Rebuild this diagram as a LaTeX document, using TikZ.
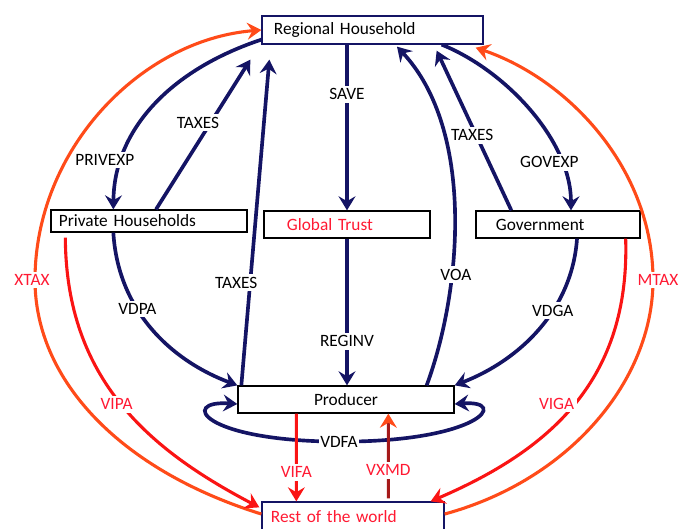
\documentclass[tikz,border=0pt]{standalone}
\usepackage{fontspec}
\setmainfont{Carlito}
\usetikzlibrary{arrows.meta, calc}
\definecolor{colorFlow}{RGB}{20,20,100}
\definecolor{colorTax}{RGB}{255,75,25}
\definecolor{colorImport}{RGB}{250,20,20}
\definecolor{colorExport}{RGB}{165,25,25}
\definecolor{colorText}{RGB}{255,25,50}

\begin{document}
\begin{tikzpicture}[x=0.025cm, y=-0.025cm, >={Stealth[length=10pt,width=12pt,inset=3.5pt]},
  font=\fontsize{12.3}{14}\selectfont,
  box/.style={draw, line width=0.9pt, align=left, inner ysep=0pt},
  flow/.style={->, colorFlow, line width=2.6pt},
  imp/.style={->, colorImport, line width=2.2pt},
  tax/.style={->, colorTax, line width=2.2pt},
  lbl/.style={fill=white, text=black, inner sep=2pt}]

\useasboundingbox (0,0) rectangle (681,528);

% accounts
\node[box, draw=colorFlow, minimum height=0.7cm, text width=4.925cm, inner xsep=0.3cm] (reg) at (372.5,30) {Regional Household};
\node[box, minimum height=0.55cm, text width=4.5cm, inner xsep=0.2cm] (priv) at (149,221) {Private Households};
\node[box, minimum height=0.675cm, text width=3cm, inner xsep=0.575cm, text=colorText] (trust) at (347,224.5) {Global Trust};
\node[box, minimum height=0.675cm, text width=3.1cm, inner xsep=0.5cm] (gov) at (558,224.5) {Government};
\node[box, minimum height=0.675cm, text width=5cm, inner xsep=0.2cm, align=center] (prod) at (346,399.5) {Producer};
\node[box, draw=colorFlow, minimum height=0.75cm, text width=4.1cm, inner xsep=0.225cm, text=colorText] (row) at (353,517) {Rest of the world};

% flows from the regional household
\draw[flow] ($(reg.south west)+(0,-5)$) .. controls (170,70) and (114,130) .. ($(priv.north west)+(63,0)$) node[lbl, pos=0.78, xshift=-0.42cm] {PRIVEXP};
\draw[flow] (trust.north |- reg.south) -- (trust.north) node[lbl, pos=0.3] {SAVE};
\draw[flow] ($(reg.south east)+(-42,0)$) .. controls (505,70) and (571,140) .. ($(gov.north)+(13,0)$) node[lbl, pos=0.77, xshift=-0.3cm] {GOVEXP};

% taxes and factor income
\draw[flow] ($(priv.north)+(7,0)$) -- ($(reg.south west)+(-11,15)$) node[lbl, pos=0.58, xshift=-0.32cm] {TAXES};
\draw[flow] ($(prod.north west)+(4,0)$) -- ($(reg.south west)+(8,15)$) node[lbl, pos=0.315, xshift=-0.35cm] {TAXES};
\draw[flow] ($(gov.north west)+(36,0)$) -- ($(reg.south east)+(-47,6)$) node[lbl, pos=0.47, xshift=-0.1cm] {TAXES};
\draw[flow] ($(prod.north east)+(-28,0)$) .. controls (462,290) and (475,130) .. ($(reg.south)+(24.5,2)$) node[lbl, pos=0.33, xshift=0.1cm] {VOA};

% domestic demand
\draw[flow] (trust.south) -- (trust.south |- prod.north) node[lbl, pos=0.7] {REGINV};
\draw[flow] ($(priv.south west)+(63,0)$) .. controls (118,310) and (170,360) .. (prod.north west) node[lbl, pos=0.38] {VDPA};
\draw[flow] ($(gov.south)+(19,0)$) .. controls (572,310) and (520,360) .. (prod.north east) node[lbl, pos=0.38] {VDGA};
\draw[flow, <->] ($(prod.west)+(0,4.5)$) .. controls (180,400) and (200,441) .. ($(prod.south)+(-7,28)$) node[lbl, inner sep=1pt] {VDFA} .. controls (480,442) and (510,400) .. ($(prod.east)+(0,4.5)$);

% rest of the world
\draw[tax] ($(row.west)+(0,-3)$) .. controls (120,470) and (35,380) .. (35,280) node[lbl, text=colorText, xshift=-0.075cm] {XTAX} .. controls (35,150) and (140,40) .. (reg.west);
\draw[tax] ($(row.east)+(0,-3)$) .. controls (570,480) and (653,380) .. (653,280) node[lbl, text=colorText, xshift=0.125cm] {MTAX} .. controls (653,170) and (570,80) .. ($(reg.south east)+(-8,3)$);
\draw[imp] ($(priv.south west)+(15,5)$) .. controls (66,380) and (150,450) .. ($(row.north west)+(-2,6)$) node[lbl, text=colorText, pos=0.5, xshift=-0.125cm] {VIPA};
\draw[imp] ($(gov.south east)+(-15,0)$) .. controls (630,380) and (550,450) .. ($(row.north east)+(-14,0)$) node[lbl, text=colorText, pos=0.5, xshift=-0.45cm] {VIGA};
\draw[imp] ($(prod.south west)+(59,0)$) -- ($(row.north west)+(35,0)$) node[lbl, text=colorText, pos=0.67] {VIFA};
\draw[colorExport, line width=2.2pt, -{Stealth[length=10pt,width=12pt,inset=3.5pt,color=colorTax]}] ($(row.north west)+(127,-3)$) -- ($(prod.south west)+(151,0)$) node[lbl, text=colorText, pos=0.33] {VXMD};
\end{tikzpicture}
\end{document}
